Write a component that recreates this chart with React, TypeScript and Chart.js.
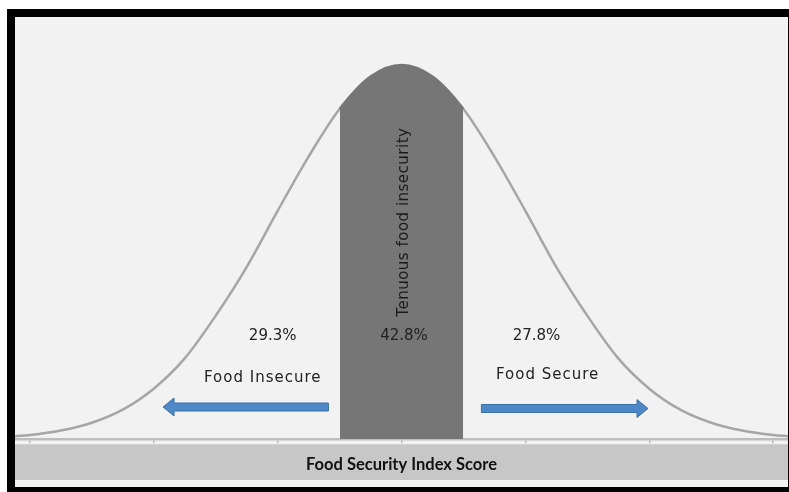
import React, { useEffect, useRef } from 'react';
import { Chart, registerables } from 'chart.js';

Chart.register(...registerables);

// ---- data (x in standard deviations of the Food Security Index Score, y = relative density, peak = 100)
const SCORE_Z = [-3.12, -3, -2.75, -2.5, -2.25, -2, -1.75, -1.5, -1.25, -1, -0.75, -0.5, -0.25, 0, 0.25, 0.5, 0.75, 1, 1.25, 1.5, 1.75, 2, 2.25, 2.5, 2.75, 3, 3.12];
const DENSITY = [0.8, 1.1, 2.3, 4.4, 7.9, 13.5, 21.6, 33.0, 46.0, 61.0, 75.5, 88.2, 96.9, 100, 96.9, 88.2, 75.5, 61.0, 46.0, 33.0, 21.6, 13.5, 7.9, 4.4, 2.3, 1.1, 0.8];
const X_TICKS = [-3, -2, -1, 0, 1, 2, 3];
const BAND_RANGE = [-0.5, 0.5];
const GROUP_NAMES = ['Food Insecure', 'Tenuous food insecurity', 'Food Secure'];
const GROUP_SHARES = [29.3, 42.8, 27.8];
const AXIS_TITLE = 'Food Security Index Score';

// ---- annotation placement (data units)
const SHARE_POS = [[-1.04, 27.5], [0.02, 27.5], [1.09, 27.5]];
const NAME_POS = [[-1.12, 16.4], [0.02, 58], [1.18, 17.2]];
const ARROWS = [
  { from: -0.59, to: -1.925, y: 8.6 },
  { from: 0.645, to: 1.99, y: 8.2 },
];

const BAND_COLOR = '#767676';
const CURVE_COLOR = '#a6a6a6';

function drawArrow(ctx: CanvasRenderingContext2D, x0: number, x1: number, yc: number) {
  const dir = Math.sign(x1 - x0);
  const hb = x1 - dir * 11;
  ctx.beginPath();
  ctx.moveTo(x0, yc - 4);
  ctx.lineTo(hb, yc - 4);
  ctx.lineTo(hb, yc - 9);
  ctx.lineTo(x1, yc);
  ctx.lineTo(hb, yc + 9);
  ctx.lineTo(hb, yc + 4);
  ctx.lineTo(x0, yc + 4);
  ctx.closePath();
  ctx.fillStyle = '#4f88c8';
  ctx.fill();
  ctx.lineWidth = 1;
  ctx.strokeStyle = '#3c6fa6';
  ctx.stroke();
}

const decorPlugin = {
  id: 'decor',
  beforeDraw(chart: any) {
    const { ctx, chartArea, width, height } = chart;
    ctx.save();
    ctx.fillStyle = '#c7c7c7';
    const top = chartArea.bottom + 5;
    ctx.fillRect(0, top, width, height - 7 - top);
    ctx.restore();
  },
  afterDatasetsDraw(chart: any) {
    const { ctx } = chart;
    const xs = chart.scales.x;
    const ys = chart.scales.y;
    ctx.save();
    ARROWS.forEach((a) => {
      drawArrow(ctx, xs.getPixelForValue(a.from), xs.getPixelForValue(a.to), ys.getPixelForValue(a.y));
    });
    ctx.textAlign = 'center';
    ctx.textBaseline = 'middle';
    ctx.fillStyle = '#222222';
    ctx.font = '15px "DejaVu Sans"';
    (ctx as any).letterSpacing = '0px';
    GROUP_SHARES.forEach((v, i) => {
      ctx.fillText(v.toFixed(1) + '%', xs.getPixelForValue(SHARE_POS[i][0]), ys.getPixelForValue(SHARE_POS[i][1]));
    });
    (ctx as any).letterSpacing = '1px';
    [0, 2].forEach((i) => {
      ctx.fillText(GROUP_NAMES[i], xs.getPixelForValue(NAME_POS[i][0]), ys.getPixelForValue(NAME_POS[i][1]));
    });
    (ctx as any).letterSpacing = '0.5px';
    ctx.fillStyle = '#1a1a1a';
    ctx.translate(xs.getPixelForValue(NAME_POS[1][0]), ys.getPixelForValue(NAME_POS[1][1]));
    ctx.rotate(-Math.PI / 2);
    ctx.fillText(GROUP_NAMES[1], 0, 0);
    ctx.restore();
  },
};

export default function App() {
  const ref = useRef<HTMLCanvasElement | null>(null);

  useEffect(() => {
    if (!ref.current) return;
    const inBand = (x: number) => x >= BAND_RANGE[0] - 1e-9 && x <= BAND_RANGE[1] + 1e-9;
    const chart = new Chart(ref.current, {
      type: 'line',
      data: {
        datasets: [
          {
            data: SCORE_Z.map((x, i) => ({ x, y: DENSITY[i] })),
            borderColor: CURVE_COLOR,
            borderWidth: 2.5,
            pointRadius: 0,
            cubicInterpolationMode: 'monotone',
            fill: 'origin',
            segment: {
              borderColor: (s: any) => (inBand(s.p0.parsed.x) && inBand(s.p1.parsed.x) ? BAND_COLOR : undefined),
            },
            backgroundColor: (c: any) => {
              const ch = c.chart;
              const area = ch.chartArea;
              if (!area) return 'rgba(0,0,0,0)';
              const xs = ch.scales.x;
              const w = area.right - area.left;
              const pa = Math.min(1, Math.max(0, (xs.getPixelForValue(BAND_RANGE[0]) - area.left) / w));
              const pb = Math.min(1, Math.max(0, (xs.getPixelForValue(BAND_RANGE[1]) - area.left) / w));
              const g = ch.ctx.createLinearGradient(area.left, 0, area.right, 0);
              g.addColorStop(0, 'rgba(118,118,118,0)');
              g.addColorStop(pa, 'rgba(118,118,118,0)');
              g.addColorStop(pa, BAND_COLOR);
              g.addColorStop(pb, BAND_COLOR);
              g.addColorStop(pb, 'rgba(118,118,118,0)');
              g.addColorStop(1, 'rgba(118,118,118,0)');
              return g;
            },
          } as any,
        ],
      },
      options: {
        animation: false,
        responsive: true,
        maintainAspectRatio: false,
        layout: { padding: 0 },
        plugins: { legend: { display: false }, tooltip: { enabled: false } },
        scales: {
          x: {
            type: 'linear',
            min: -3.12,
            max: 3.12,
            afterBuildTicks: (scale: any) => {
              scale.ticks = X_TICKS.map((v) => ({ value: v }));
            },
            ticks: { display: false },
            grid: { drawOnChartArea: false, drawTicks: true, tickLength: 4, color: '#b5b5b5', lineWidth: 1.5 },
            border: { display: true, color: '#bdbdbd', width: 2.5 },
            title: {
              display: true,
              text: AXIS_TITLE,
              color: '#111111',
              font: { family: 'Lato', size: 16.5, weight: 'bold', lineHeight: 1.2 },
              padding: { top: 12, bottom: 12 },
            },
          },
          y: { display: false, min: 0, max: 112.8 },
        },
      },
      plugins: [decorPlugin],
    });
    return () => chart.destroy();
  }, []);

  return (
    <div
      style={{
        position: 'fixed',
        left: 7,
        top: 9,
        width: 789,
        height: 486,
        border: '8px solid #000',
        boxSizing: 'border-box',
        background: '#f2f2f2',
      }}
    >
      <div style={{ position: 'absolute', left: 0, top: 0, width: 773, height: 470 }}>
        <canvas ref={ref} />
      </div>
    </div>
  );
}
